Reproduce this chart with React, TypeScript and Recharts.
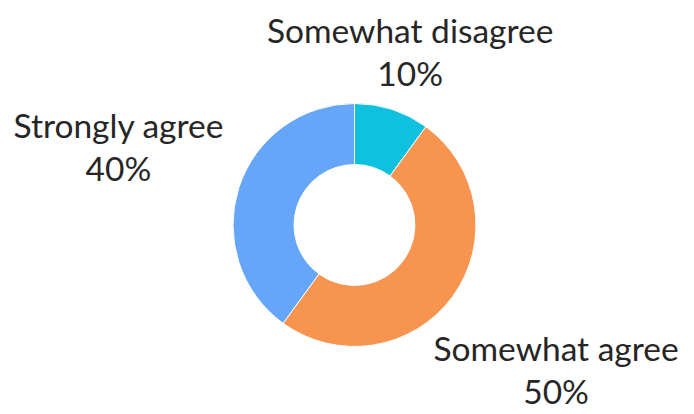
import React from 'react';
import { PieChart, Pie, Cell } from 'recharts';

const LABELS = ['Somewhat disagree', 'Somewhat agree', 'Strongly agree'];
const VALUES = [10, 50, 40];
const COLORS = ['#0fc0df', '#f7944f', '#65a6f9'];

const data = LABELS.map((name, i) => ({ name, value: VALUES[i] }));

const RAD = Math.PI / 180;
const FONT = 'Lato, sans-serif';

// étiquettes sur deux lignes, placées le long de l'angle médian de chaque part
const renderLabel = (props: any) => {
  const { cx, cy, midAngle, outerRadius, name, percent } = props;
  const vx = Math.cos(-midAngle * RAD);
  const vy = Math.sin(-midAngle * RAD);
  const r = outerRadius * (1.835 * Math.abs(vx) + 0.963 * Math.abs(vy));
  const x = cx + r * vx;
  const y = cy + r * vy;
  return (
    <text x={x} y={y} textAnchor="middle" fill="#262626" fontSize={33.5} fontFamily={FONT}>
      <tspan x={x} y={y - 10.5}>{name}</tspan>
      <tspan x={x} y={y + 32.5}>{`${Math.round(percent * 100)}%`}</tspan>
    </text>
  );
};

export default function App() {
  return (
    <div style={{ position: 'absolute', left: 0, top: 0, width: 694, height: 414 }}>
      <PieChart width={694} height={414} margin={{ top: 0, right: 0, bottom: 0, left: 0 }}>
        <Pie
          data={data}
          dataKey="value"
          nameKey="name"
          cx={354.5}
          cy={225}
          innerRadius={60.5}
          outerRadius={121.5}
          startAngle={90}
          endAngle={-270}
          stroke="#ffffff"
          strokeWidth={1}
          label={renderLabel}
          labelLine={false}
          isAnimationActive={false}
        >
          {data.map((d, i) => (
            <Cell key={d.name} fill={COLORS[i]} />
          ))}
        </Pie>
      </PieChart>
    </div>
  );
}
